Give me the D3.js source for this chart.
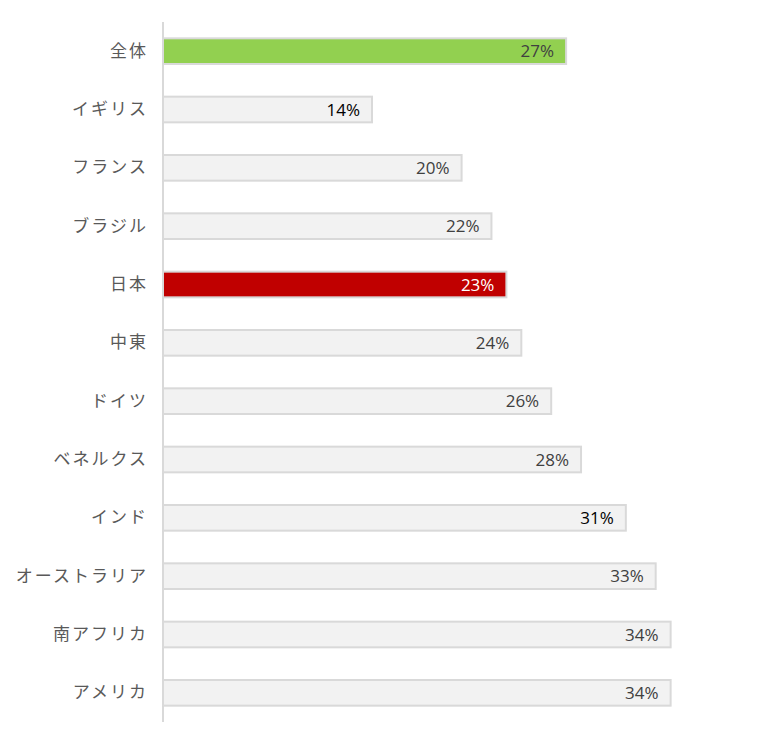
<!DOCTYPE html>
<html>
<head>
<meta charset="utf-8">
<script src="https://cdn.jsdelivr.net/npm/d3@7"></script>
<style>
  body { margin: 0; background: #fff; }
</style>
</head>
<body>
<div id="chart"></div>
<script>
// data
const categories = ["全体", "イギリス", "フランス", "ブラジル", "日本", "中東", "ドイツ", "ベネルクス", "インド", "オーストラリア", "南アフリカ", "アメリカ"];
const values = [27, 14, 20, 22, 23, 24, 26, 28, 31, 33, 34, 34];
const highlight = { "全体": "#92d050", "日本": "#c00000" };
const darkLabels = ["イギリス", "インド"];

const width = 782;
const height = 746;
const margin = {top: 22, right: 30, bottom: 24, left: 163};

const svg = d3.select("#chart")
    .append("svg")
    .attr("width", width)
    .attr("height", height);

const xScale = d3.scaleLinear()
    .domain([0, 1])
    .range([margin.left, margin.left + 1493]);

const yScale = d3.scaleBand()
    .domain(categories)
    .range([margin.top, height - margin.bottom])
    .paddingInner(0.56)
    .paddingOuter(0.28);

const rows = categories.map((c, i) => ({name: c, value: values[i] / 100}));

// category axis
const yAxis = svg.append("g")
    .attr("transform", `translate(${margin.left},0)`)
    .call(d3.axisLeft(yScale).tickSize(0).tickPadding(15));

yAxis.select(".domain")
    .attr("stroke", "#d9d9d9")
    .attr("stroke-width", 2)
    .attr("d", `M0,${margin.top}V${height - margin.bottom}`);

yAxis.selectAll(".tick text")
    .attr("font-family", "'Noto Sans CJK JP', sans-serif")
    .attr("font-size", 17)
    .attr("letter-spacing", 2)
    .attr("fill", "#595959");

// bars
svg.append("g")
    .selectAll("rect")
    .data(rows)
    .join("rect")
    .attr("x", xScale(0))
    .attr("y", (d) => yScale(d.name))
    .attr("width", (d) => xScale(d.value) - xScale(0))
    .attr("height", yScale.bandwidth())
    .attr("fill", (d) => highlight[d.name] || "#f2f2f2")
    .attr("stroke", "#d9d9d9")
    .attr("stroke-width", 2);

// value labels
svg.append("g")
    .selectAll("text")
    .data(rows)
    .join("text")
    .attr("x", (d) => xScale(d.value) - 12)
    .attr("y", (d) => yScale(d.name) + yScale.bandwidth() / 2)
    .attr("dy", "0.36em")
    .attr("text-anchor", "end")
    .attr("font-family", "'Open Sans', 'Noto Sans', sans-serif")
    .attr("font-size", 17)
    .attr("fill", (d) => {
        if (d.name === "日本") return "#ffffff";
        if (darkLabels.includes(d.name)) return "#000000";
        return "#404040";
    })
    .text((d) => d3.format(".0%")(d.value));
</script>
</body>
</html>
